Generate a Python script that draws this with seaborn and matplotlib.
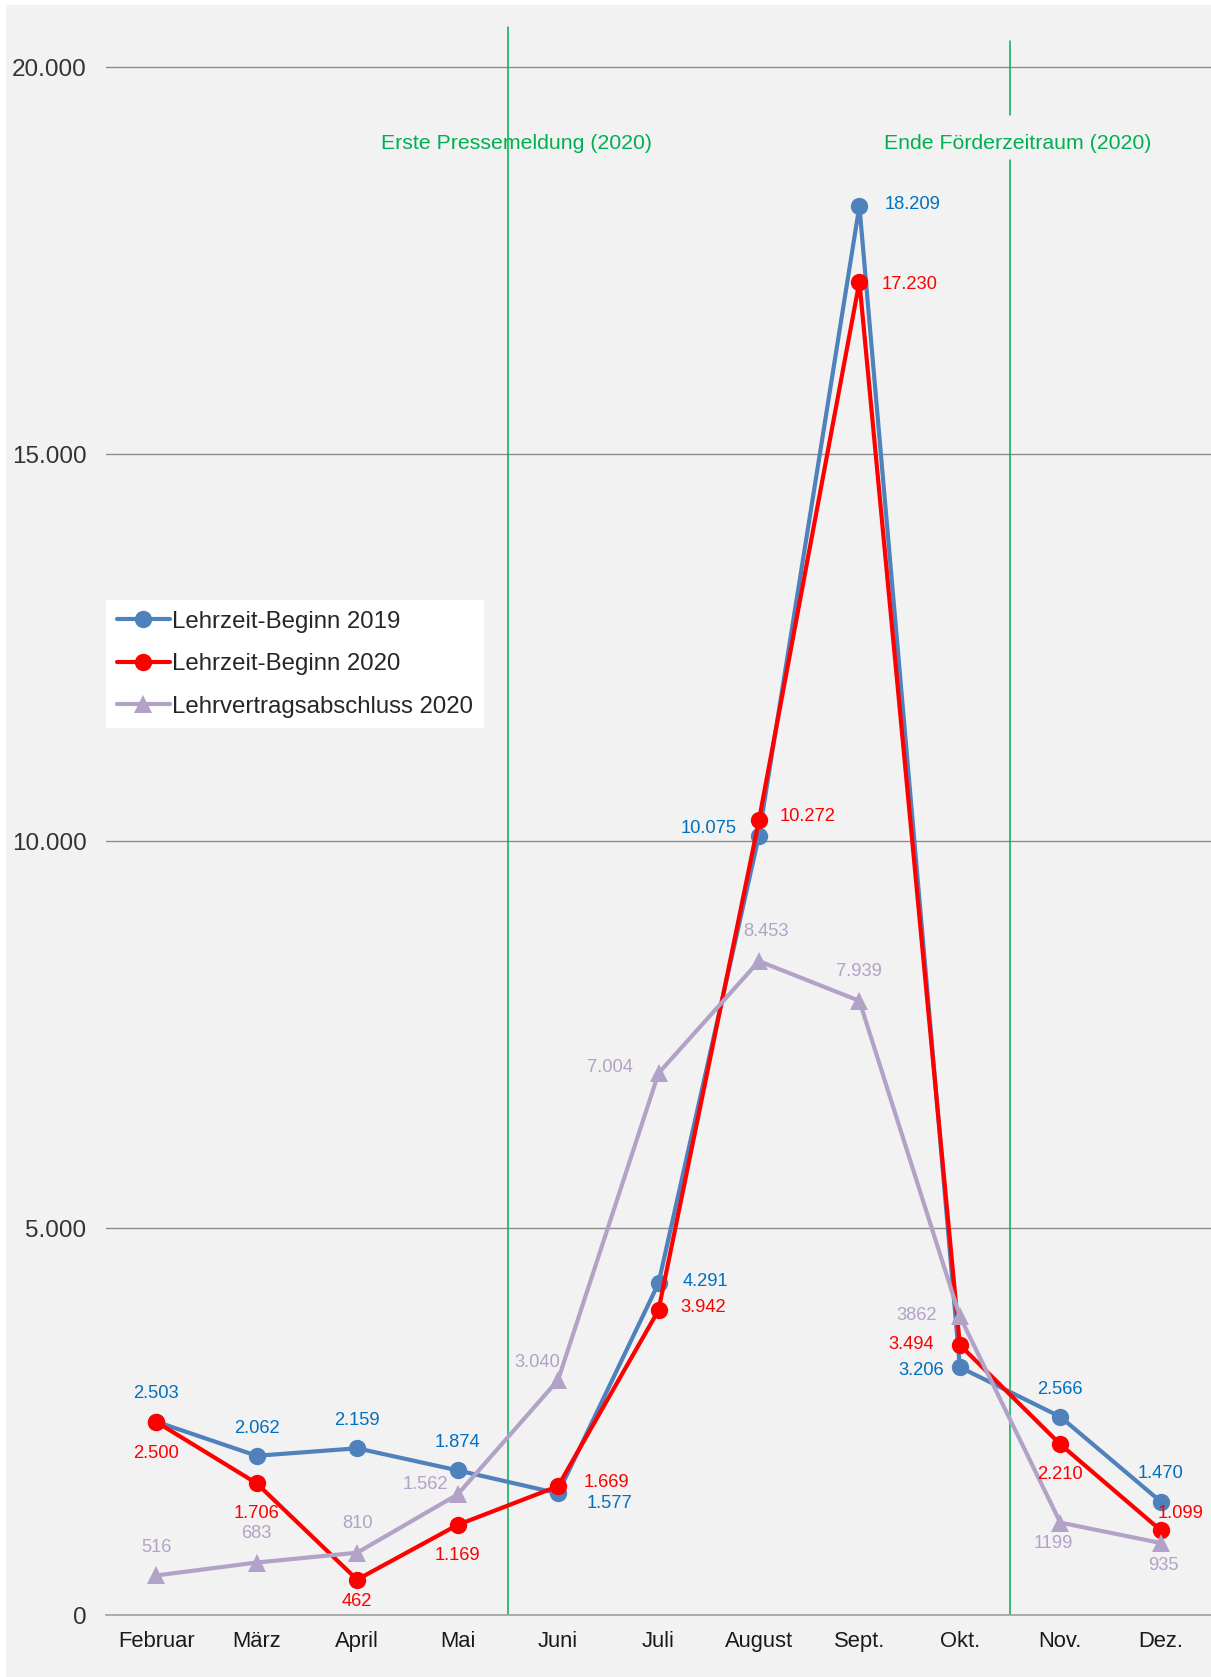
import matplotlib
matplotlib.use("Agg")
import matplotlib.pyplot as plt
from matplotlib.lines import Line2D
from matplotlib.patches import Rectangle
import seaborn as sns
import pandas as pd

# --- data -----------------------------------------------------------------
monate = ["Februar", "März", "April", "Mai", "Juni", "Juli", "August",
          "Sept.", "Okt.", "Nov.", "Dez."]
beginn_2019 = [2503, 2062, 2159, 1874, 1577, 4291, 10075, 18209, 3206, 2566, 1470]
beginn_2020 = [2500, 1706, 462, 1169, 1669, 3942, 10272, 17230, 3494, 2210, 1099]
vertrag_2020 = [516, 683, 810, 1562, 3040, 7004, 8453, 7939, 3862, 1199, 935]
serien = ["Lehrzeit-Beginn 2019", "Lehrzeit-Beginn 2020", "Lehrvertragsabschluss 2020"]
y_ticks = [0, 5000, 10000, 15000, 20000]
y_tick_labels = ["0", "5.000", "10.000", "15.000", "20.000"]
ereignisse = ["Erste Pressemeldung (2020)", "Ende Förderzeitraum (2020)"]

# --- styling ----------------------------------------------------------------
farben = {serien[0]: "#4F81BD", serien[1]: "#FF0000", serien[2]: "#B3A2C7"}
label_farben = {serien[0]: "#0070C0", serien[1]: "#FF0000", serien[2]: "#B3A2C7"}
marker = {serien[0]: "o", serien[1]: "o", serien[2]: "^"}
gruen = "#00B050"
LW = 3.0

# label offsets (points) for each data label
offsets = {
    serien[0]: [(0, 20), (0, 20), (0, 20), (0, 20), (37, -7), (34, 1), (-36, 5),
                (38, 1), (-28, -2), (0, 20), (0, 20)],
    serien[1]: [(0, -23), (0, -22), (0, -16), (0, -22), (35, 3), (32, 2), (35, 3),
                (36, -2), (-35, 0), (0, -22), (14, 12)],
    serien[2]: [(0, 20), (0, 21), (0, 21), (-23, 7), (-15, 13), (-35, 4), (5, 21),
                (0, 21), (-31, 1), (-5, -15), (2, -16)],
}
ohne_punkt = {serien[2]: {8, 9}}


def fmt(v, mit_punkt=True):
    s = f"{v:,}"
    return s.replace(",", ".") if mit_punkt else s.replace(",", "")


def msize(name):
    return 13 if marker[name] == "^" else 12.5


sns.set_style("white")
plt.rcParams["font.family"] = ["Liberation Sans", "DejaVu Sans"]

W, H = 1211, 1677
fig = plt.figure(figsize=(W / 100, H / 100), dpi=100)
fig.patch.set_facecolor("white")
fig.add_artist(Rectangle((6 / W, 0), 1 - 6 / W, 1 - 5 / H, transform=fig.transFigure,
                         facecolor="#F2F2F2", edgecolor="none", zorder=0))

ax = fig.add_axes([106 / W, (H - 1615.4) / H, 1 - 106 / W, 1610 / H])
ax.set_facecolor("none")

pos = list(range(len(monate)))
df = pd.concat([
    pd.DataFrame({"pos": pos, "Monat": monate, "Wert": werte, "Serie": name})
    for name, werte in zip(serien, [beginn_2019, beginn_2020, vertrag_2020])
], ignore_index=True)

for name in serien:
    sub = df[df["Serie"] == name]
    sns.lineplot(data=sub, x="pos", y="Wert", ax=ax, color=farben[name],
                 marker=marker[name], markersize=msize(name),
                 markeredgewidth=0, linewidth=LW, sort=False, legend=False,
                 zorder=3)
    skip = ohne_punkt.get(name, set())
    for i, (x, v) in enumerate(zip(sub["pos"], sub["Wert"])):
        ax.annotate(fmt(v, i not in skip), (x, v), xytext=offsets[name][i],
                    textcoords="offset points", ha="center", va="center",
                    fontsize=13.2, color=label_farben[name], zorder=5)

# event markers
ax.plot([3.5, 3.5], [0, 20526], color=gruen, linewidth=1.1, zorder=2)
ax.plot([8.5, 8.5], [19378, 20346], color=gruen, linewidth=1.1, zorder=2)
ax.plot([8.5, 8.5], [0, 18804], color=gruen, linewidth=1.1, zorder=2)
ax.text(3.59, 19015, ereignisse[0], ha="center", va="center", fontsize=15.3, color=gruen)
ax.text(8.58, 19015, ereignisse[1], ha="center", va="center", fontsize=15.3, color=gruen)

# axes
ax.set_xlim(-0.5, 10.5)
ax.set_ylim(0, 20800)
ax.set_yticks(y_ticks)
ax.set_yticklabels(y_tick_labels, fontsize=17.5, color="#333333")
ax.set_xticks(pos)
ax.set_xticklabels(monate, fontsize=15.8, color="#1a1a1a")
ax.set_xticks([p - 0.5 for p in pos] + [pos[-1] + 0.5], minor=True)
ax.tick_params(axis="x", which="major", length=0, pad=11)
ax.tick_params(axis="x", which="minor", length=6, width=1.2, color="#A6A6A6", direction="out")
ax.tick_params(axis="y", length=0, pad=14)
ax.set_xlabel("")
ax.set_ylabel("")
ax.grid(axis="y", color="#8C8C8C", linewidth=1.0, zorder=1)
ax.grid(axis="x", visible=False)
ax.set_axisbelow(True)
for s in ["top", "right", "left"]:
    ax.spines[s].set_visible(False)
ax.spines["bottom"].set_color("#A6A6A6")
ax.spines["bottom"].set_linewidth(1.3)

handles = [Line2D([], [], color=farben[n], marker=marker[n], linewidth=LW,
                  markersize=msize(n), markeredgewidth=0)
           for n in serien]
leg = ax.legend(handles, serien, loc="upper left", bbox_to_anchor=(0.0, 0.6307),
                borderaxespad=0, fontsize=17.3, frameon=True, fancybox=False,
                facecolor="white", edgecolor="none", framealpha=1,
                handlelength=2.2, handletextpad=0.1, labelspacing=0.85,
                borderpad=0.45)
leg.set_zorder(6)

fig.savefig("out.png", dpi=100)
